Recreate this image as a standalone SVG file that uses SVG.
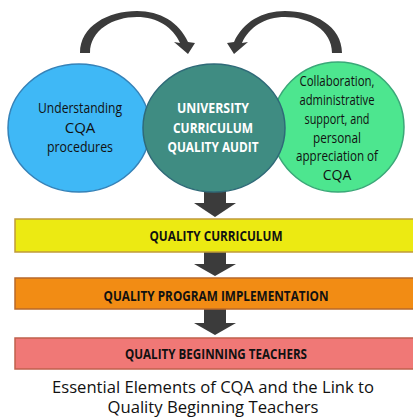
<svg xmlns="http://www.w3.org/2000/svg" width="413" height="417" viewBox="0 0 413 417">
  <style>
    .lbl { font-family: "Open Sans", "Liberation Sans", sans-serif; text-anchor: middle; }
    .circ { font-size: 15px; fill: #111; }
    .small { font-size: 14px; }
    .hub { font-size: 15px; font-weight: bold; fill: #fff; }
    .bar { font-size: 15px; font-weight: bold; fill: #111; }
    .cap { font-size: 16px; fill: #111; }
    .arrow { fill: #3b3b3b; }
  </style>

  <!-- connectors: curved feedback arrows and downward block arrows -->
  <g id="connectors">
    <path class="arrow" d="M80,53 C80,26 108,11 137,11 C160,11 179,22 188,42 L195,43 L188,54 L174,42 L180,43 C173,27 157,17 137,17 C113,17 90,30 90,53 Z"/>
    <path class="arrow" d="M342,53 C342,26 314,11 285,11 C262,11 243,22 234,42 L227,43 L234,54 L248,42 L242,43 C249,27 265,17 285,17 C309,17 332,30 332,53 Z"/>
    <polygon class="arrow" points="204,185 226,185 226,203 236,203 215,217 194,203 204,203"/>
    <polygon class="arrow" points="204,252 226,252 226,264 236,264 215,276 194,264 204,264"/>
    <polygon class="arrow" points="204,309 226,309 226,323 236,323 215,335 194,323 204,323"/>
  </g>

  <g id="understanding">
    <ellipse cx="79" cy="128" rx="71" ry="64" fill="#3fb8f6" stroke="#3582b8" stroke-width="1.5"/>
    <text class="lbl circ" x="80" y="113" textLength="84" lengthAdjust="spacingAndGlyphs">Understanding</text>
    <text class="lbl circ" x="80" y="133">CQA</text>
    <text class="lbl circ" x="80" y="152" textLength="66" lengthAdjust="spacingAndGlyphs">procedures</text>
  </g>

  <g id="collaboration">
    <ellipse cx="338" cy="127" rx="66" ry="65" fill="#4de68f" stroke="#3aa878" stroke-width="1.5"/>
    <text class="lbl circ small" x="337" y="86" textLength="75" lengthAdjust="spacingAndGlyphs">Collaboration,</text>
    <text class="lbl circ small" x="337" y="105" textLength="75" lengthAdjust="spacingAndGlyphs">administrative</text>
    <text class="lbl circ small" x="337" y="124" textLength="65" lengthAdjust="spacingAndGlyphs">support, and</text>
    <text class="lbl circ small" x="337" y="143" textLength="48" lengthAdjust="spacingAndGlyphs">personal</text>
    <text class="lbl circ small" x="337" y="161" textLength="82" lengthAdjust="spacingAndGlyphs">appreciation of</text>
    <text class="lbl circ small" x="337" y="180">CQA</text>
  </g>

  <g id="cqa-audit">
    <ellipse cx="214" cy="128" rx="71" ry="64" fill="#3f8c82" stroke="#2f6a78" stroke-width="1.5"/>
    <text class="lbl hub" x="213" y="113" textLength="72" lengthAdjust="spacingAndGlyphs">UNIVERSITY</text>
    <text class="lbl hub" x="213" y="133" textLength="80" lengthAdjust="spacingAndGlyphs">CURRICULUM</text>
    <text class="lbl hub" x="213" y="152" textLength="91" lengthAdjust="spacingAndGlyphs">QUALITY AUDIT</text>
  </g>

  <g id="quality-curriculum">
    <rect x="15" y="219" width="410" height="33" fill="#ecea12" stroke="#c09a3a" stroke-width="1.5"/>
    <text class="lbl bar" x="216" y="241" textLength="133" lengthAdjust="spacingAndGlyphs">QUALITY CURRICULUM</text>
  </g>

  <g id="quality-program">
    <rect x="15" y="278" width="410" height="31" fill="#f28c14" stroke="#b8682a" stroke-width="1.5"/>
    <text class="lbl bar" x="216" y="301" textLength="225" lengthAdjust="spacingAndGlyphs">QUALITY PROGRAM IMPLEMENTATION</text>
  </g>

  <g id="quality-teachers">
    <rect x="15" y="338" width="410" height="31" fill="#f07876" stroke="#c0604c" stroke-width="1.5"/>
    <text class="lbl bar" x="216" y="359" textLength="182" lengthAdjust="spacingAndGlyphs">QUALITY BEGINNING TEACHERS</text>
  </g>

  <g id="caption">
    <text class="lbl cap" x="213" y="393" textLength="322" lengthAdjust="spacingAndGlyphs">Essential Elements of CQA and the Link to</text>
    <text class="lbl cap" x="213" y="413" textLength="211" lengthAdjust="spacingAndGlyphs">Quality Beginning Teachers</text>
  </g>
</svg>
